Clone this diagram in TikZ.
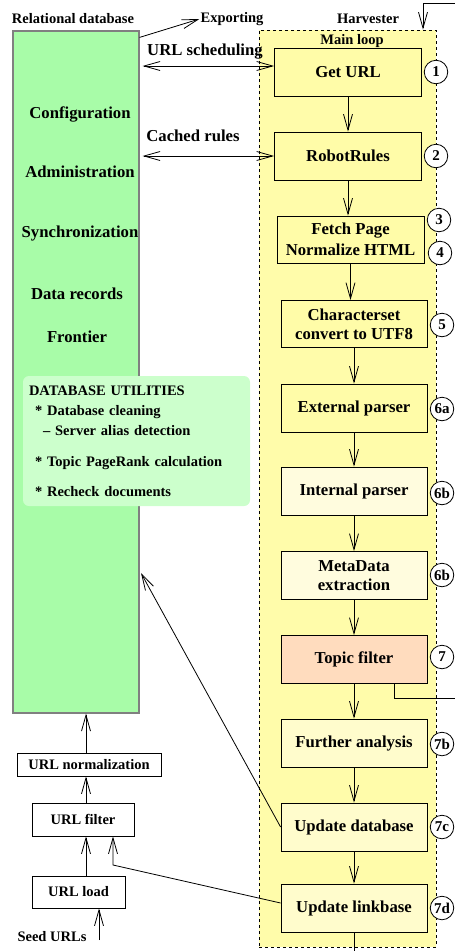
\documentclass[tikz,border=0pt]{standalone}
\usepackage{fontspec}
\setmainfont{Liberation Serif}
\usepackage{xcolor}
\usetikzlibrary{arrows.meta,positioning,calc}

\definecolor{dbgreen}{RGB}{168,252,168}
\definecolor{utilgreen}{RGB}{204,255,204}
\definecolor{harvyellow}{RGB}{255,252,170}
\definecolor{stepyellow}{RGB}{255,252,168}
\definecolor{paleyellow}{RGB}{255,252,222}
\definecolor{lightyellow}{RGB}{255,252,204}
\definecolor{topicpeach}{RGB}{255,220,190}

\newcommand{\boxfnt}{\fontsize{16.7}{19}\selectfont\bfseries}
\newcommand{\lblfnt}{\fontsize{14.5}{17}\selectfont\bfseries}
\newcommand{\numfnt}{\fontsize{15}{17}\selectfont\bfseries}

\begin{document}
\begin{tikzpicture}[
  x=1pt, y=-1pt,
  % Styles
  stepbox/.style={draw, line width=0.8pt, minimum width=147pt, minimum height=48pt,
                  font=\boxfnt, align=center, fill=stepyellow},
  stepnum/.style={draw, circle, line width=0.8pt, fill=white, minimum size=23.5pt,
                  inner sep=0pt, font=\numfnt},
  urlbox/.style={draw, line width=0.8pt, fill=white, font=\lblfnt, inner sep=0pt},
  lbl/.style={font=\lblfnt, inner sep=1pt},
  dbitem/.style={font=\boxfnt, inner sep=1pt},
  barb/.tip={Straight Barb[length=16pt,width=9pt,line width=0.8pt]},
  flow/.style={-barb, line width=0.8pt},
  dflow/.style={barb-barb, line width=0.8pt}
]
\useasboundingbox (0,0) rectangle (455,951);

% --- 1. Harvester ---
\node[draw, dashed, line width=0.8pt, fill=harvyellow, minimum width=177pt,
      minimum height=917pt] (harv) at (347.5,488.5) {};
\node[lbl] (harvlbl) at (368,19) {Harvester};
\node[lbl] (mainloop) at (352,41) {Main loop};

\node[stepbox] (geturl) at (348,72) {Get URL};
\node[stepbox] (robot) at (348,156) {RobotRules};
\node[stepbox, minimum height=47pt] (fetch) at (350.5,239.5) {Fetch Page\\[2pt]Normalize HTML};
\node[stepbox, minimum width=146pt, minimum height=47pt] (charset) at (354,324)
  {Characterset\\convert to UTF8};
\node[stepbox, minimum width=146pt] (extparse) at (354,408) {External parser};
\node[stepbox, minimum width=146pt, fill=paleyellow] (intparse) at (354,491) {Internal parser};
\node[stepbox, minimum width=146pt, fill=paleyellow] (meta) at (354,575.5) {MetaData\\extraction};
\node[stepbox, minimum width=146pt, fill=topicpeach] (topic) at (354,659.5) {Topic filter};
\node[stepbox, minimum width=146pt, fill=lightyellow] (further) at (354,743) {Further analysis};
\node[stepbox, minimum width=146pt, fill=lightyellow] (updb) at (354,827) {Update database};
\node[stepbox, minimum width=146pt, fill=lightyellow] (uplink) at (354,908) {Update linkbase};

% step numbers
\node[stepnum] (n1) at (436,72) {1};
\node[stepnum] (n2) at (436,156) {2};
\node[stepnum] (n3) at (439,220) {3};
\node[stepnum] (n4) at (440,253) {4};
\node[stepnum] (n5) at (442,325) {5};
\node[stepnum] (n6a) at (442,409) {6a};
\node[stepnum] (n6b) at (442,493) {6b};
\node[stepnum] (n6c) at (442,575) {6b};
\node[stepnum] (n7) at (442,657) {7};
\node[stepnum] (n7b) at (442,744) {7b};
\node[stepnum] (n7c) at (442,827) {7c};
\node[stepnum] (n7d) at (442,908) {7d};

% --- 2. Relational database ---
\node[draw, gray, line width=1.2pt, fill=dbgreen, minimum width=126pt,
      minimum height=682pt] (db) at (76,372) {};
\node[lbl] (dblbl) at (73,19) {Relational database};
\node[dbitem] (config) at (80,114) {Configuration};
\node[dbitem] (admin) at (80,172) {Administration};
\node[dbitem] (sync) at (80,234) {Synchronization};
\node[dbitem] (records) at (77,294) {Data records};
\node[dbitem] (frontier) at (77,337) {Frontier};

\node[fill=utilgreen, rounded corners=6pt, minimum width=227pt, minimum height=130pt,
      font=\lblfnt, align=left, text width=215pt] (utils) at (136.5,441)
  {DATABASE UTILITIES\\[3pt]
   \hspace*{6pt}* Database cleaning\\[3pt]
   \hspace*{14pt}-- Server alias detection\\[14pt]
   \hspace*{6pt}* Topic PageRank calculation\\[13pt]
   \hspace*{6pt}* Recheck documents};

\node[lbl] (export) at (232,19) {Exporting};
\node[dbitem] (sched) at (205,52) {URL scheduling};
\node[dbitem] (cached) at (193,136) {Cached rules};

% --- 3. URL input ---
\node[urlbox, minimum width=144pt, minimum height=23pt] (unorm) at (89,764.5) {URL normalization};
\node[urlbox, minimum width=102pt, minimum height=33pt] (ufilter) at (83,819.5) {URL filter};
\node[urlbox, minimum width=93pt, minimum height=32pt] (uload) at (78.5,892) {URL load};
\node[lbl] (seedlbl) at (52,937) {Seed URLs};

% free ends
\coordinate (lcol) at (86,0);
\coordinate (seed) at (99,940);
\coordinate (loopin) at (455,3);
\coordinate (loopcol) at (423,0);
\coordinate (topicout) at (455,698);
\coordinate (loopout) at (354,951);
\coordinate (dbin) at (141,573);
\coordinate (linkbend) at (113,865);

% --- 4. Flow Arrows ---
\draw[flow] (geturl.south) -- (geturl.south |- robot.north);
\draw[flow] (robot.south) -- (robot.south |- fetch.north);
\draw[flow] (fetch.south) -- (fetch.south |- charset.north);
\draw[flow] (charset.south) -- (extparse.north);
\draw[flow] (extparse.south) -- (intparse.north);
\draw[flow] (intparse.south) -- (meta.north);
\draw[flow] (meta.south) -- (topic.north);
\draw[flow] (topic.south) -- (further.north);
\draw[flow] (further.south) -- (updb.north);
\draw[flow] (updb.south) -- (uplink.north);
\draw[line width=0.8pt] (uplink.south) -- (loopout);

% loop back and topic exit
\draw[flow] (loopin) -| (harv.north -| loopcol);
\draw[line width=0.8pt] ([xshift=40pt]topic.south) |- (topicout);

% database links
\draw[dflow] ($(db.east |- geturl.west)+(3,-6)$) -- ($(geturl.west)+(0,-6)$);
\draw[dflow] ($(db.east |- robot.west)+(3,0)$) -- (robot.west);
\draw[flow] ([yshift=-7pt]db.north east) -- (export.west);
\draw[flow] (updb.west) -- (dbin);

% URL input chain
\draw[flow] (seed) -- (uload.south -| seed);
\draw[flow] (uload.north -| lcol) -- (ufilter.south -| lcol);
\draw[flow] (ufilter.north -| lcol) -- (unorm.south -| lcol);
\draw[flow] (unorm.north -| lcol) -- (db.south -| lcol);
\draw[flow] ([yshift=5pt]uplink.west) -- (linkbend) -- (ufilter.south -| linkbend);

\end{tikzpicture}
\end{document}
